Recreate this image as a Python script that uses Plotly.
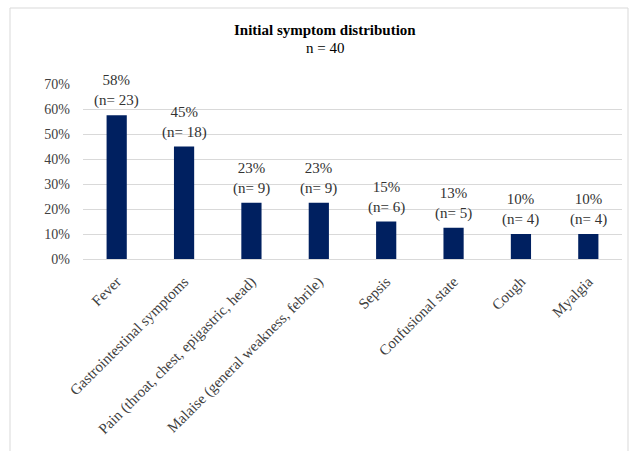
import plotly.graph_objects as go

categories = ["Fever", "Gastrointestinal symptoms", "Pain (throat, chest, epigastric, head)",
              "Malaise (general weakness, febrile)", "Sepsis", "Confusional state", "Cough", "Myalgia"]
counts = [23, 18, 9, 9, 6, 5, 4, 4]
total = 40
pct_labels = ["58%", "45%", "23%", "23%", "15%", "13%", "10%", "10%"]
values = [c / total for c in counts]
texts = [f"{p}<br>(n= {c})" for p, c in zip(pct_labels, counts)]

FONT = "Liberation Serif, Times New Roman, serif"
W, H = 637, 451
L, R, T, B = 83, 15, 84, 192
pw, ph = W - L - R, H - T - B

def px(x):
    return (x - L) / pw

def py(y):
    return (H - B - y) / ph

fig = go.Figure(go.Bar(
    x=categories, y=values, marker_color="#002060", marker_line_width=0,
))

label_annotations = [
    dict(x=c, y=v, xref="x", yref="y", text=t, showarrow=False,
         xanchor="center", yanchor="bottom", yshift=4,
         font=dict(family=FONT, size=15, color="#333333"))
    for c, v, t in zip(categories, values, texts)
]

fig.update_layout(
    width=W, height=H, margin=dict(l=L, r=R, t=T, b=B),
    paper_bgcolor="white", plot_bgcolor="white",
    bargap=0.7, showlegend=False,
    font=dict(family=FONT, size=14, color="#404040"),
    xaxis=dict(tickangle=-45, showgrid=False, showline=True, linecolor="#d9d9d9",
               tickfont=dict(family=FONT, size=15, color="#404040"), ticks="",
               ticklabelstandoff=7),
    yaxis=dict(range=[0, 0.7], dtick=0.1, tickformat=".0%", showgrid=True,
               gridcolor="#d9d9d9", zeroline=False, showline=False, ticks="",
               tickfont=dict(family=FONT, size=14, color="#404040"), ticklen=0,
               ticklabelstandoff=12),
    annotations=label_annotations + [
        dict(text="<b>Initial symptom distribution</b>", xref="paper", yref="paper",
             x=px(325), y=py(30), showarrow=False, font=dict(family=FONT, size=15, color="#000000"),
             xanchor="center", yanchor="middle"),
        dict(text="n = 40", xref="paper", yref="paper",
             x=px(325), y=py(48), showarrow=False, font=dict(family=FONT, size=15, color="#000000"),
             xanchor="center", yanchor="middle"),
    ],
    shapes=[dict(type="rect", xref="paper", yref="paper", x0=px(10), x1=px(628),
                 y0=py(470), y1=py(8), line=dict(color="#d9d9d9", width=1), layer="below")],
)

fig.write_html("out.html")
